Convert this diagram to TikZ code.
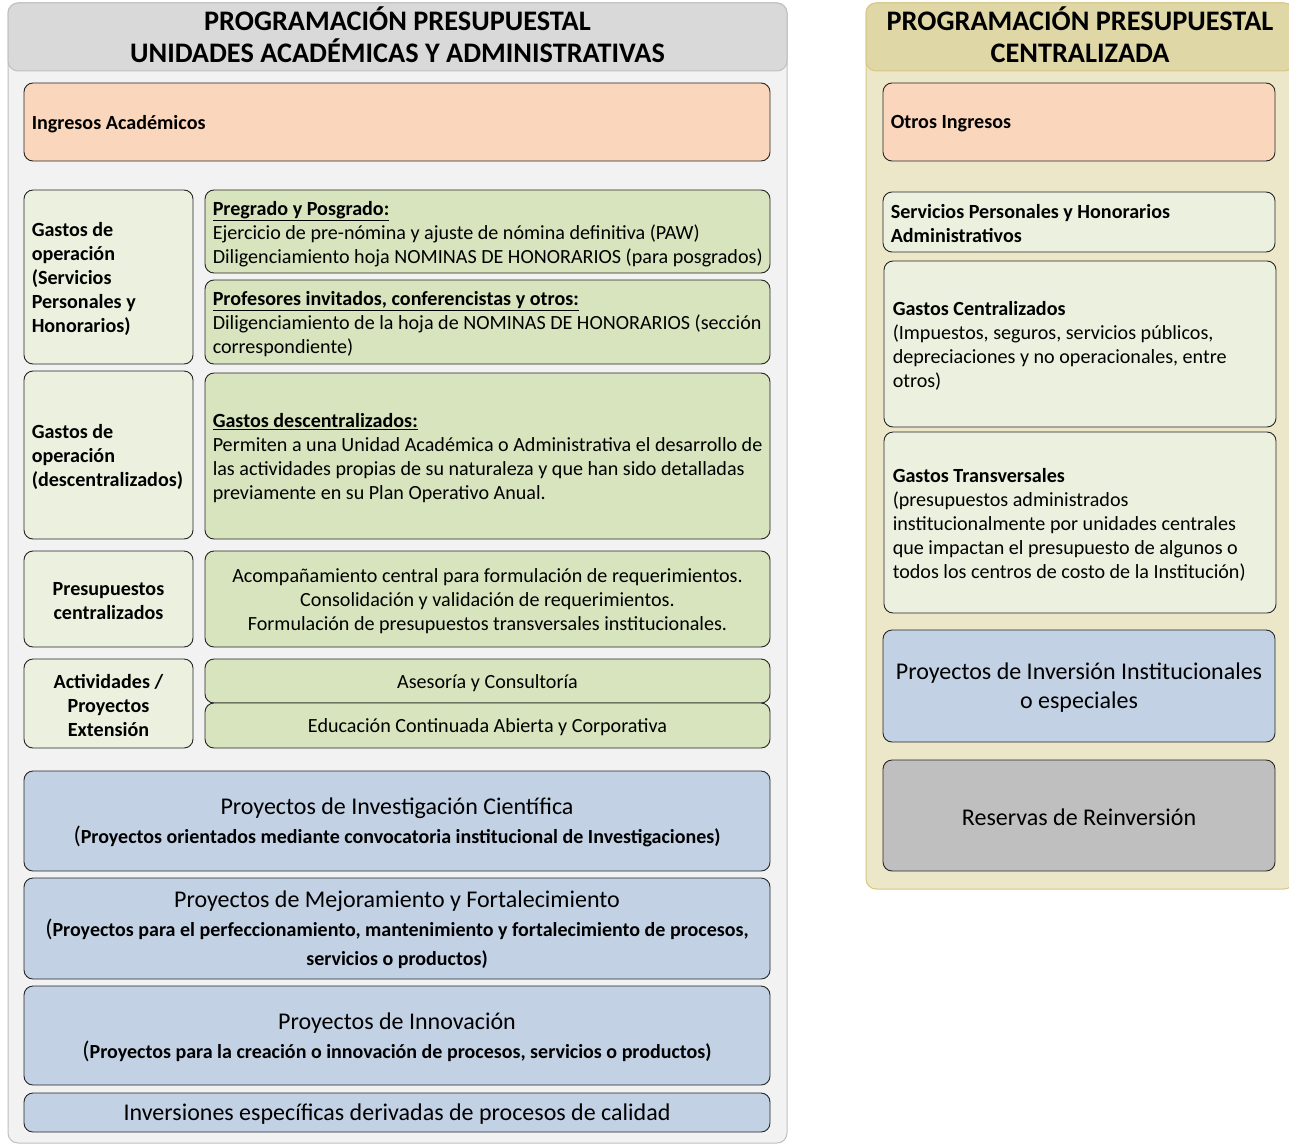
\documentclass[tikz,border=0pt]{standalone}
\usepackage{fontspec}
\setmainfont{Carlito}
\definecolor{hdgray}{HTML}{D9D9D9}
\definecolor{pnlgray}{HTML}{F2F2F2}
\definecolor{pnlline}{HTML}{BFBFBF}
\definecolor{hdtan}{HTML}{DFD7A5}
\definecolor{pnltan}{HTML}{EDE7C9}
\definecolor{tanline}{HTML}{D6C782}
\definecolor{peach}{HTML}{FAD7BC}
\definecolor{grnA}{HTML}{D7E4BD}
\definecolor{grnB}{HTML}{EBF1DE}
\definecolor{blueA}{HTML}{C2D1E4}
\definecolor{grayA}{HTML}{BFBFBF}
\newcommand\mybox[6][]{\node[bx,#1,minimum width={#5-#3},minimum height={#6-#4}] (#2) at ({(#3+#5)/2},{(#4+#6)/2}) {};}
\tikzset{
  bx/.style={draw=black!85, line width=0.9pt, rounded corners=9pt, inner sep=0pt},
  pnl/.style={rounded corners=10pt, line width=1pt, inner sep=0pt},
  txt/.style={inner sep=0pt, yshift=-2pt, font=\fontsize{20.1}{24}\selectfont},
  big/.style={inner sep=0pt, yshift=-1.5pt, font=\fontsize{24}{29}\selectfont},
  hd/.style={inner sep=0pt, font=\fontsize{28.3}{32}\selectfont\bfseries, align=center}
}
\newcommand\bp[1]{{\fontsize{24}{29}\selectfont(}{\fontsize{20}{29}\selectfont\bfseries #1}}
\begin{document}
\begin{tikzpicture}[x=1pt,y=-1pt]
\useasboundingbox (0,0) rectangle (1289,1145);
% panels
\node[pnl, draw=pnlline, fill=pnlgray, minimum width=779, minimum height=1140] (lp) at (397.5,573) {};
\node[pnl, draw=pnlline, fill=hdgray, minimum width=779, minimum height=68] (lh) at (397.5,37) {};
\node[hd] (lht) at (397.5,34.5) {PROGRAMACIÓN PRESUPUESTAL\\UNIDADES ACADÉMICAS Y ADMINISTRATIVAS};
\node[pnl, draw=tanline, fill=pnltan, minimum width=428, minimum height=886] (rp) at (1080,446) {};
\node[pnl, draw=tanline, fill=hdtan, minimum width=428, minimum height=68] (rh) at (1080,37) {};
\node[hd] (rht) at (1080,34.5) {PROGRAMACIÓN PRESUPUESTAL\\CENTRALIZADA};
% left boxes
\mybox[fill=peach]{ia}{24}{83}{770}{161}
\mybox[fill=grnB]{gso}{24}{190}{193}{364}
\mybox[fill=grnA]{pg}{205}{190}{770}{273}
\mybox[fill=grnA]{pi}{205}{280}{770}{364}
\mybox[fill=grnB]{god}{24}{371}{193}{539}
\mybox[fill=grnA]{gd}{205}{373}{770}{539}
\mybox[fill=grnB]{pc}{24}{551}{193}{647}
\mybox[fill=grnA]{ac}{205}{551}{770}{647}
\mybox[fill=grnB]{ape}{24}{659}{193}{748}
\mybox[fill=grnA]{as}{205}{659}{770}{703}
\mybox[fill=grnA]{ec}{205}{703}{770}{748}
\mybox[fill=blueA]{pic}{24}{771}{770}{871}
\mybox[fill=blueA]{pmf}{24}{878}{770}{979}
\mybox[fill=blueA]{pin}{24}{986}{770}{1085}
\mybox[fill=blueA]{inv}{24}{1093}{770}{1132}
% right boxes
\mybox[fill=peach]{oi}{883}{83}{1275}{161}
\mybox[fill=grnB]{sph}{883}{192}{1275}{252}
\mybox[fill=grnB]{gc}{884}{261}{1276}{427}
\mybox[fill=grnB]{gt}{884}{432}{1276}{613}
\mybox[fill=blueA]{pii}{883}{630}{1275}{742}
\mybox[fill=grayA]{rr}{883}{760}{1275}{871}
% left texts
\node[txt, anchor=west] (tia) at ([xshift=8pt]ia.west) {\textbf{Ingresos Académicos}};
\node[txt, anchor=west, align=left] (tgso) at ([xshift=8pt]gso.west) {\textbf{Gastos de}\\\textbf{operación}\\\textbf{(Servicios}\\\textbf{Personales y}\\\textbf{Honorarios)}};
\node[txt, anchor=west, align=left] (tpg) at ([xshift=8pt,yshift=-1pt]pg.west) {\textbf{\underline{Pregrado y Posgrado:}}\\Ejercicio de pre-nómina y ajuste de nómina definitiva (PAW)\\Diligenciamiento hoja NOMINAS DE HONORARIOS (para posgrados)};
\node[txt, anchor=west, align=left] (tpi) at ([xshift=8pt]pi.west) {\textbf{\underline{Profesores invitados, conferencistas y otros:}}\\Diligenciamiento de la hoja de NOMINAS DE HONORARIOS (sección\\correspondiente)};
\node[txt, anchor=west, align=left] (tgod) at ([xshift=8pt]god.west) {\textbf{Gastos de}\\\textbf{operación}\\\textbf{(descentralizados)}};
\node[txt, anchor=west, align=left] (tgd) at ([xshift=8pt]gd.west) {\textbf{\underline{Gastos descentralizados:}}\\Permiten a una Unidad Académica o Administrativa el desarrollo de\\las actividades propias de su naturaleza y que han sido detalladas\\previamente en su Plan Operativo Anual.};
\node[txt, align=center] (tpc) at (pc.center) {\textbf{Presupuestos}\\\textbf{centralizados}};
\node[txt, align=center] (tac) at (ac.center) {Acompañamiento central para formulación de requerimientos.\\Consolidación y validación de requerimientos.\\Formulación de presupuestos transversales institucionales.};
\node[txt, align=center] (tape) at (ape.center) {\textbf{Actividades /}\\\textbf{Proyectos}\\\textbf{Extensión}};
\node[txt] (tas) at (as.center) {Asesoría y Consultoría};
\node[txt] (tec) at (ec.center) {Educación Continuada Abierta y Corporativa};
\node[big, align=center] (tpic) at (pic.center) {Proyectos de Investigación Científica\\\bp{Proyectos orientados mediante convocatoria institucional de Investigaciones)}};
\node[big, align=center] (tpmf) at (pmf.center) {Proyectos de Mejoramiento y Fortalecimiento\\\bp{Proyectos para el perfeccionamiento, mantenimiento y fortalecimiento de procesos,}\\{\fontsize{20}{29}\selectfont\bfseries servicios o productos)}};
\node[big, align=center] (tpin) at (pin.center) {Proyectos de Innovación\\\bp{Proyectos para la creación o innovación de procesos, servicios o productos)}};
\node[big] (tinv) at (inv.center) {Inversiones específicas derivadas de procesos de calidad};
% right texts
\node[txt, anchor=west] (toi) at ([xshift=8pt]oi.west) {\textbf{Otros Ingresos}};
\node[txt, anchor=west, align=left] (tsph) at ([xshift=8pt]sph.west) {\textbf{Servicios Personales y Honorarios}\\\textbf{Administrativos}};
\node[txt, anchor=west, align=left] (tgc) at ([xshift=9pt]gc.west) {\textbf{Gastos Centralizados}\\(Impuestos, seguros, servicios públicos,\\depreciaciones y no operacionales, entre\\otros)};
\node[txt, anchor=west, align=left] (tgt) at ([xshift=9pt]gt.west) {\textbf{Gastos Transversales}\\(presupuestos administrados\\institucionalmente por unidades centrales\\que impactan el presupuesto de algunos o\\todos los centros de costo de la Institución)};
\node[big, align=center] (tpii) at (pii.center) {Proyectos de Inversión Institucionales\\o especiales};
\node[big] (trr) at (rr.center) {Reservas de Reinversión};
\end{tikzpicture}
\end{document}
